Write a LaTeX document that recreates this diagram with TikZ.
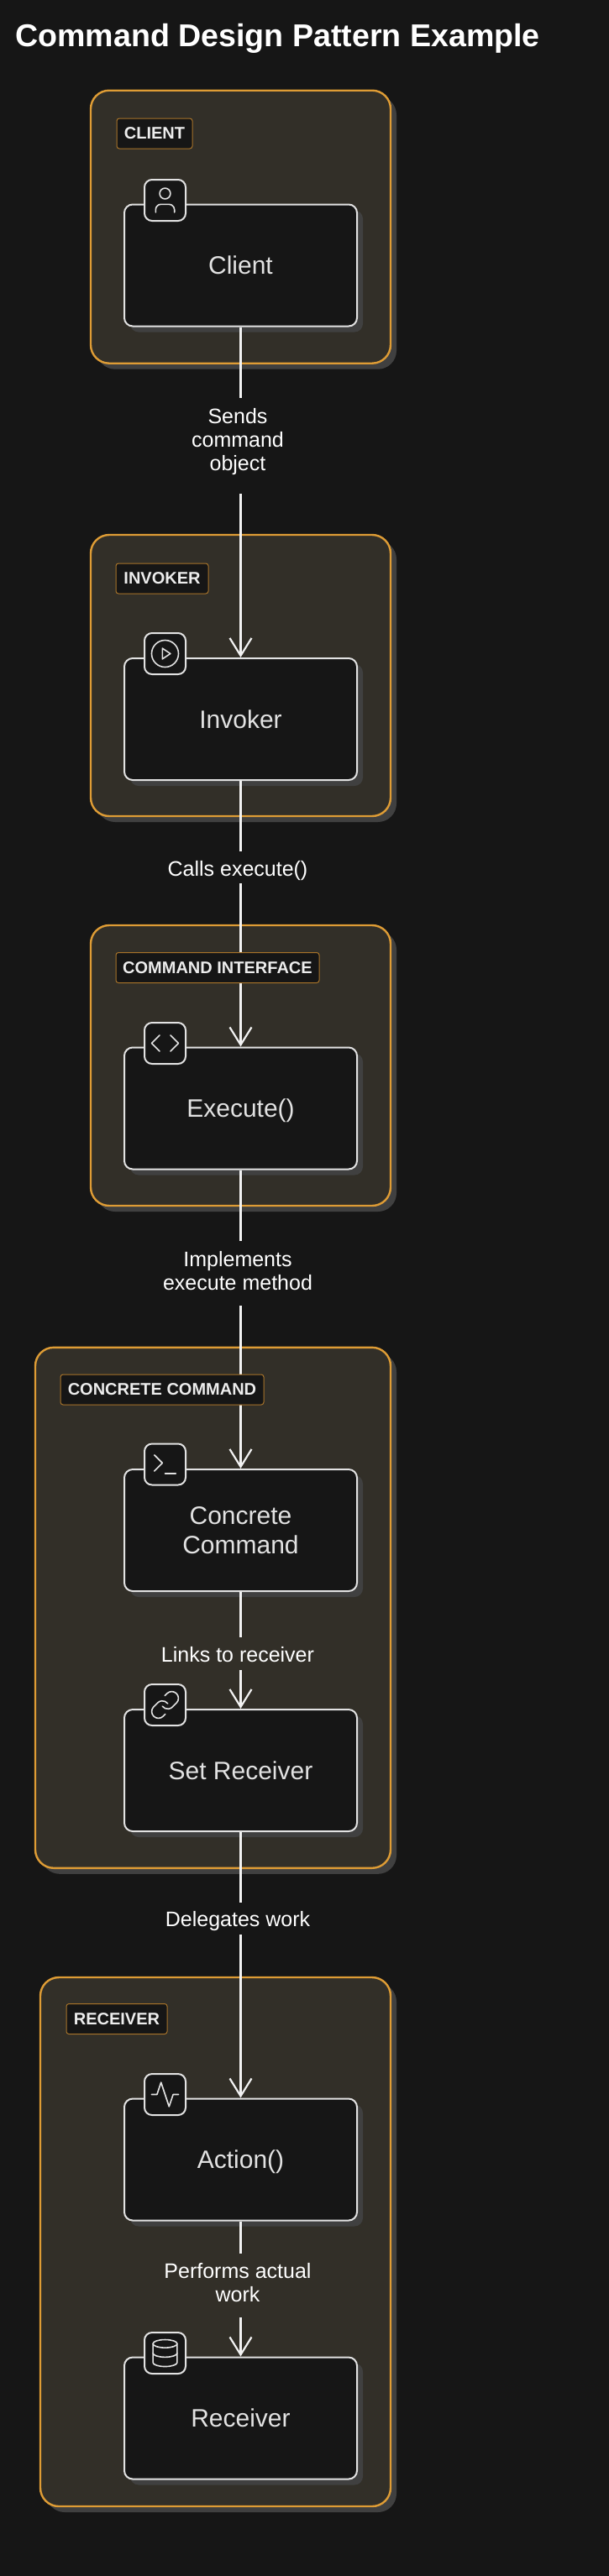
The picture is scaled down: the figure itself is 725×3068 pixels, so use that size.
\documentclass[tikz,border=0pt]{standalone}
\usepackage{fontspec}
\setmainfont{Liberation Sans}
\usetikzlibrary{arrows.meta,shadows,svg.path}
\definecolor{pagebg}{HTML}{161616}
\definecolor{zonefill}{HTML}{322F28}
\definecolor{zoneline}{HTML}{DE9C35}
\definecolor{tagline}{HTML}{A8742A}
\definecolor{shadowgrey}{HTML}{404040}
\definecolor{boxline}{HTML}{E2E2E2}
\definecolor{flowcolor}{HTML}{F2F2F2}
\tikzset{
  zonebox/.style={draw=zoneline,line width=2.4pt,fill=zonefill,rounded corners=22pt,
    general shadow={shadow xshift=7pt,shadow yshift=-7pt,fill=shadowgrey}},
  tagbox/.style={draw=tagline,line width=1pt,fill=pagebg,rounded corners=3pt,text=white!93!black,
    minimum height=36pt,inner sep=0pt,font=\fontsize{20}{24}\selectfont\bfseries},
  stepbox/.style={draw=boxline,line width=2pt,fill=pagebg,rounded corners=10pt,text=boxline,
    minimum width=277pt,minimum height=145pt,align=center,inner sep=0pt,
    font=\fontsize{30}{35}\selectfont,
    general shadow={shadow xshift=7pt,shadow yshift=-7pt,fill=shadowgrey}},
  badgebox/.style={draw=boxline,line width=2pt,fill=pagebg,rounded corners=9pt,
    minimum width=49pt,minimum height=49pt,inner sep=0pt},
  flowlabel/.style={text=white,align=center,inner sep=0pt,font=\fontsize{25}{28}\selectfont},
  flowline/.style={draw=flowcolor,line width=2.2pt},
  flowarrow/.style={flowline,-{Straight Barb[length=21pt,width=26pt]}},
  iconline/.style={draw=boxline,line width=1.6pt,line cap=round,line join=round},
  iconframe/.style={shift={(#1.center)},xscale=1.6,yscale=-1.6,shift={(-12pt,-12pt)}}
}
\begin{document}
\begin{tikzpicture}[x=1pt,y=-1pt]
    \fill[pagebg] (0,0) rectangle (725,3068);
    \node[anchor=base west,inner sep=0pt,text=white,font=\fontsize{37.6}{42}\selectfont\bfseries] (title) at (18,55) {Command Design Pattern Example};

    % zones
    \node[zonebox,minimum width=357pt,minimum height=325pt] (zoneclient) at (286.5,270.2) {};
    \node[zonebox,minimum width=357pt,minimum height=335pt] (zoneinvoker) at (286.5,804.5) {};
    \node[zonebox,minimum width=357pt,minimum height=334pt] (zonecommand) at (286.5,1269) {};
    \node[zonebox,minimum width=423pt,minimum height=620pt] (zoneconcrete) at (253.5,1914.8) {};
    \node[zonebox,minimum width=417pt,minimum height=630pt] (zonereceiver) at (256.5,2670) {};

    % boxes
    \node[stepbox] (client) at (286.5,316) {Client};
    \node[stepbox] (invoker) at (286.5,856.5) {Invoker};
    \node[stepbox] (execute) at (286.5,1320) {Execute()\rule{0pt}{28pt}};
    \node[stepbox] (concrete) at (286.5,1822.5) {Concrete\\Command};
    \node[stepbox] (setreceiver) at (286.5,2108.5) {Set Receiver};
    \node[stepbox] (action) at (286.5,2572) {Action()\rule{0pt}{28pt}};
    \node[stepbox] (receiver) at (286.5,2880) {Receiver};

    % labels on the connectors
    \node[flowlabel,minimum height=114pt] (sends) at (283,531) {Sends\\command\\object\rule[-15pt]{0pt}{0pt}};
    \node[flowlabel,minimum height=38pt] (calls) at (283,1033) {Calls execute()\rule{0pt}{26pt}};
    \node[flowlabel,minimum height=77pt] (implements) at (283,1516.7) {Implements\\execute method\rule[-7pt]{0pt}{0pt}};
    \node[flowlabel,minimum height=39pt] (links) at (283,1969.5) {Links to receiver\rule{0pt}{20pt}};
    \node[flowlabel,minimum height=38pt] (delegates) at (283,2285) {Delegates work\rule{0pt}{25pt}};
    \node[flowlabel,minimum height=76pt] (performs) at (283,2722) {Performs actual\\work\rule[-7pt]{0pt}{0pt}};

    % connectors
    \draw[flowline] (client.south) -- (client.south |- sends.north);
    \draw[flowarrow] (client.south |- sends.south) -- (invoker.north);
    \draw[flowline] (invoker.south) -- (invoker.south |- calls.north);
    \draw[flowarrow] (invoker.south |- calls.south) -- (execute.north);
    \draw[flowline] (execute.south) -- (execute.south |- implements.north);
    \draw[flowarrow] (execute.south |- implements.south) -- (concrete.north);
    \draw[flowline] (concrete.south) -- (concrete.south |- links.north);
    \draw[flowarrow] (concrete.south |- links.south) -- (setreceiver.north);
    \draw[flowline] (setreceiver.south) -- (setreceiver.south |- delegates.north);
    \draw[flowarrow] (setreceiver.south |- delegates.south) -- (action.north);
    \draw[flowline] (action.south) -- (action.south |- performs.north);
    \draw[flowarrow] (action.south |- performs.south) -- (receiver.north);

    % zone tags
    \node[tagbox,minimum width=90pt] (tagclient) at (184,159) {CLIENT};
    \node[tagbox,minimum width=110pt] (taginvoker) at (193,689) {INVOKER};
    \node[tagbox,minimum width=242pt] (tagcommand) at (259,1152.5) {COMMAND INTERFACE};
    \node[tagbox,minimum width=242pt] (tagconcrete) at (193,1655) {CONCRETE COMMAND};
    \node[tagbox,minimum width=120pt] (tagreceiver) at (139,2404.5) {RECEIVER};

    % icon badges
    \node[badgebox] (badgeclient) at (196.5,238.5) {};
    \node[badgebox] (badgeinvoker) at (196.5,778.5) {};
    \node[badgebox] (badgeexecute) at (196.5,1242.5) {};
    \node[badgebox] (badgeconcrete) at (196.5,1744) {};
    \node[badgebox] (badgeset) at (196.5,2030.5) {};
    \node[badgebox] (badgeaction) at (196.5,2494.5) {};
    \node[badgebox] (badgereceiver) at (196.5,2802.5) {};

    % icons, on a 24 unit grid
    \begin{scope}[iconframe=badgeclient]
        \draw[iconline] (12pt,7pt) circle [radius=4pt];
        \draw[iconline,scale=0.1] svg {M 190 210 v -20 a 40 40 0 0 0 -40 -40 H 90 a 40 40 0 0 0 -40 40 v 20};
    \end{scope}
    \begin{scope}[iconframe=badgeinvoker]
        \draw[iconline] (12pt,12pt) circle [radius=10pt];
        \draw[iconline] svg {M 10 8 L 16 12 L 10 16 Z};
    \end{scope}
    \begin{scope}[iconframe=badgeexecute]
        \draw[iconline] svg {M 16 18 L 22 12 L 16 6};
        \draw[iconline] svg {M 8 6 L 2 12 L 8 18};
    \end{scope}
    \begin{scope}[iconframe=badgeconcrete]
        \draw[iconline] svg {M 4 17 L 10 11 L 4 5};
        \draw[iconline] svg {M 12 19 L 20 19};
    \end{scope}
    \begin{scope}[iconframe=badgeset]
        \draw[iconline,scale=0.1] svg {M 100 130 a 50 50 0 0 0 75.4 5.4 l 30 -30 a 50 50 0 0 0 -70.7 -70.7 l -17.2 17.1};
        \draw[iconline,scale=0.1] svg {M 140 110 a 50 50 0 0 0 -75.4 -5.4 l -30 30 a 50 50 0 0 0 70.7 70.7 l 17.1 -17.1};
    \end{scope}
    \begin{scope}[iconframe=badgeaction]
        \draw[iconline] svg {M 22 12 L 18 12 L 15 21 L 9 3 L 6 12 L 2 12};
    \end{scope}
    \begin{scope}[iconframe=badgereceiver]
        \draw[iconline] (12pt,5pt) ellipse [x radius=9pt,y radius=3pt];
        \draw[iconline] (3pt,5pt) -- (3pt,19pt) arc [start angle=180,end angle=0,x radius=9pt,y radius=3pt] -- (21pt,5pt);
        \draw[iconline] (3pt,12pt) arc [start angle=180,end angle=0,x radius=9pt,y radius=3pt];
    \end{scope}
\end{tikzpicture}
\end{document}
